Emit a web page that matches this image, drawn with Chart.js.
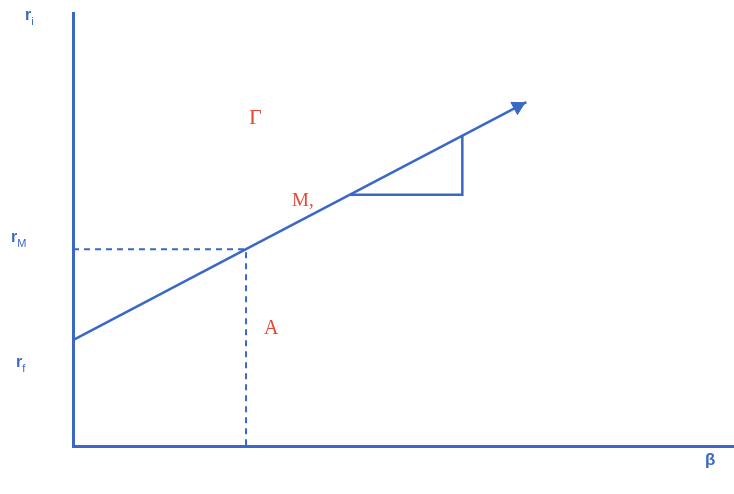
<!DOCTYPE html>
<html>
<head>
<meta charset="utf-8">
<script src="https://cdn.jsdelivr.net/npm/chart.js@4/dist/chart.umd.min.js"></script>
<style>
  html, body { margin: 0; padding: 0; background: #ffffff; }
  #wrap { width: 734px; height: 494px; }
</style>
</head>
<body>
<div id="wrap"><canvas id="sml" width="734" height="494"></canvas></div>
<script>
// ── DATOS (beta, rendimiento) ──
var rf = 3.5;          // tasa libre de riesgo
var rM = 6.5;          // rendimiento de mercado (beta = 1)
var betaM = 1;
var betaMax = 3.82;
var rMax = 14.3;
var smlBetas = [0, 1, 2.62];              // recta SML
var smlReturns = [3.5, 6.5, 11.36];
var triBetas = [1.6, 2.25, 2.25];         // triangulo de pendiente
var triReturns = [8.3, 8.3, 10.25];
var arrowBeta = [2.57];
var arrowReturn = [11.21];

var AZUL = '#3b68c6';
var ROJO = '#e04a34';

function pts(xs, ys) {
    return xs.map(function(x, i) { return { x: x, y: ys[i] }; });
}

// etiquetas: r_i, r_M, r_f, beta, Gamma, M, A
var etiquetas = {
    id: 'etiquetas',
    afterDraw: function(chart) {
        var ctx = chart.ctx;
        var sy = chart.scales.y;
        function sub(main, s, x, y) {
            ctx.fillStyle = AZUL;
            ctx.font = 'bold 16px "Liberation Sans", Arial, sans-serif';
            ctx.textBaseline = 'alphabetic';
            ctx.textAlign = 'left';
            ctx.fillText(main, x, y);
            var w = ctx.measureText(main).width;
            ctx.font = '11px "Liberation Sans", Arial, sans-serif';
            ctx.fillText(s, x + w, y + 5);
        }
        ctx.save();
        sub('r', 'i', 25, sy.getPixelForValue(rMax) + 7);
        sub('r', 'M', 11, sy.getPixelForValue(rM) - 7);
        sub('r', 'f', 16, sy.getPixelForValue(rf) + 27);

        ctx.fillStyle = AZUL;
        ctx.font = 'bold 17px "Liberation Sans", Arial, sans-serif';
        ctx.textAlign = 'left';
        ctx.fillText('\u03B2', 705, 465);

        ctx.fillStyle = ROJO;
        ctx.font = '22px "Liberation Serif", "Times New Roman", serif';
        ctx.fillText('\u0393', 249, 124);
        ctx.font = '19px "Liberation Serif", "Times New Roman", serif';
        ctx.fillText('M,', 292, 206);
        ctx.font = '20px "Liberation Serif", "Times New Roman", serif';
        ctx.fillText('A', 264, 334);
        ctx.restore();
    }
};

new Chart(document.getElementById('sml'), {
    type: 'scatter',
    data: {
        datasets: [
            {
                data: pts(smlBetas, smlReturns),
                showLine: true, borderColor: AZUL, borderWidth: 2.5,
                pointRadius: 0, clip: false
            },
            {
                data: pts([0, betaM, betaM], [rM, rM, 0]),
                showLine: true, borderColor: AZUL, borderWidth: 2,
                borderDash: [6, 5], pointRadius: 0, clip: false
            },
            {
                data: pts(triBetas, triReturns),
                showLine: true, borderColor: AZUL, borderWidth: 2.5,
                pointRadius: 0, clip: false
            },
            {
                data: pts(arrowBeta, arrowReturn),
                showLine: false, pointStyle: 'triangle', pointRadius: 8,
                rotation: 62, backgroundColor: AZUL, borderColor: AZUL,
                borderWidth: 1, clip: false
            }
        ]
    },
    options: {
        responsive: false,
        animation: false,
        layout: { autoPadding: false, padding: { left: 73, top: 13, right: 0, bottom: 48 } },
        plugins: { legend: { display: false }, tooltip: { enabled: false } },
        scales: {
            x: {
                type: 'linear', min: 0, max: betaMax,
                ticks: { display: false }, grid: { display: false },
                border: { display: true, color: AZUL, width: 3 },
                afterFit: function(s) { s.height = 0; }
            },
            y: {
                type: 'linear', min: 0, max: rMax,
                ticks: { display: false }, grid: { display: false },
                border: { display: true, color: AZUL, width: 3 },
                afterFit: function(s) { s.width = 0; }
            }
        }
    },
    plugins: [etiquetas]
});
</script>
</body>
</html>
